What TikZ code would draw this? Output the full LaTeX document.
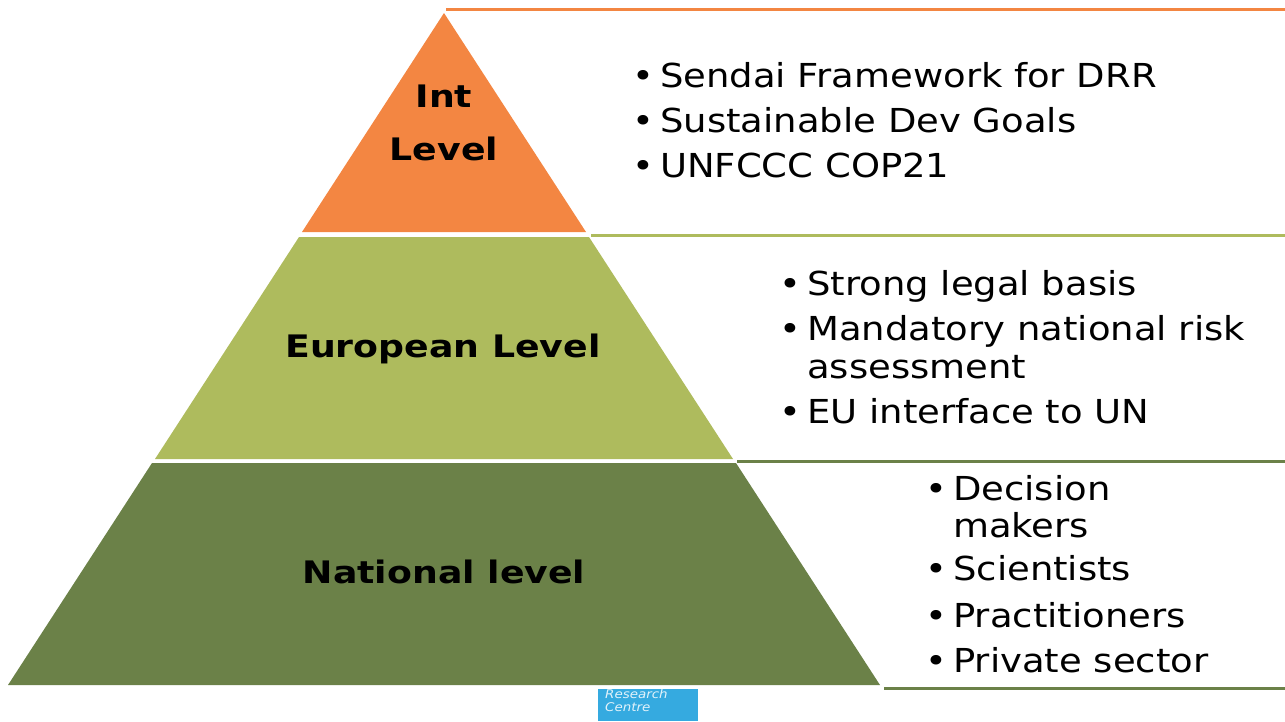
\documentclass[tikz,border=0pt]{standalone}
\usepackage{fontspec}
\setmainfont{DejaVu Sans}[FakeStretch=1.12,BoldFeatures={FakeStretch=1.17}]
\usetikzlibrary{positioning}

\definecolor{intorange}{RGB}{243,134,66}
\definecolor{eulime}{RGB}{174,187,93}
\definecolor{natgreen}{RGB}{107,129,72}
\definecolor{jrcblue}{RGB}{53,170,224}

\tikzset{
    level/.style={font=\fontsize{31}{37}\selectfont\bfseries,anchor=base,inner sep=0pt},
    item/.style={font=\fontsize{33}{38}\selectfont,anchor=base west,inner sep=0pt},
    rule/.style={line width=3pt},
}
\newcommand{\bul}{\llap{\textbullet\hspace{6pt}}}

\begin{document}
\begin{tikzpicture}[x=1pt,y=-1pt]
    \useasboundingbox (0,0) rectangle (1285,721);

    % pyramid
    \fill[intorange] (444,13) -- (586,232) -- (302,232) -- cycle;
    \fill[eulime] (299,237) -- (589,237) -- (733,459) -- (155,459) -- cycle;
    \fill[natgreen] (152,463) -- (736,463) -- (880,685) -- (8,685) -- cycle;

    % rules to the right
    \draw[rule,intorange] (446,9) -- (1285,9);
    \draw[rule,eulime] (591,235) -- (1285,235);
    \draw[rule,natgreen] (737,461) -- (1285,461);
    \draw[rule,natgreen] (884,688) -- (1285,688);

    \draw
        node[level] (intA) at (444,107) {Int}
        node[level] (intB) at (444,160) {Level}
        node[level] (eu) at (443,357) {European Level}
        node[level] (nat) at (444,583) {National level}

        node[item] (sendai) at (660,87) {\bul Sendai Framework for DRR}
        node[item] (sdg) at (660,132) {\bul Sustainable Dev Goals}
        node[item] (cop) at (660,177) {\bul UNFCCC COP21}

        node[item] (legal) at (807,295) {\bul Strong legal basis}
        node[item] (nra) at (807,340) {\bul Mandatory national risk}
        node[item] (nrb) at (807,378) {assessment}
        node[item] (un) at (807,423) {\bul EU interface to UN}

        node[item] (dma) at (953,500) {\bul Decision}
        node[item] (dmb) at (953,537) {makers}
        node[item] (sci) at (953,580) {\bul Scientists}
        node[item] (prac) at (953,627) {\bul Practitioners}
        node[item] (priv) at (953,672) {\bul Private sector}
    ;

    % logo strip
    \fill[jrcblue] (598,689) rectangle (698,721);
    \node[font=\fontsize{12}{13}\selectfont\itshape,text=white!85!jrcblue,align=left,anchor=north west,inner sep=0pt] (jrc) at (605,689) {Research\\Centre};
\end{tikzpicture}
\end{document}
